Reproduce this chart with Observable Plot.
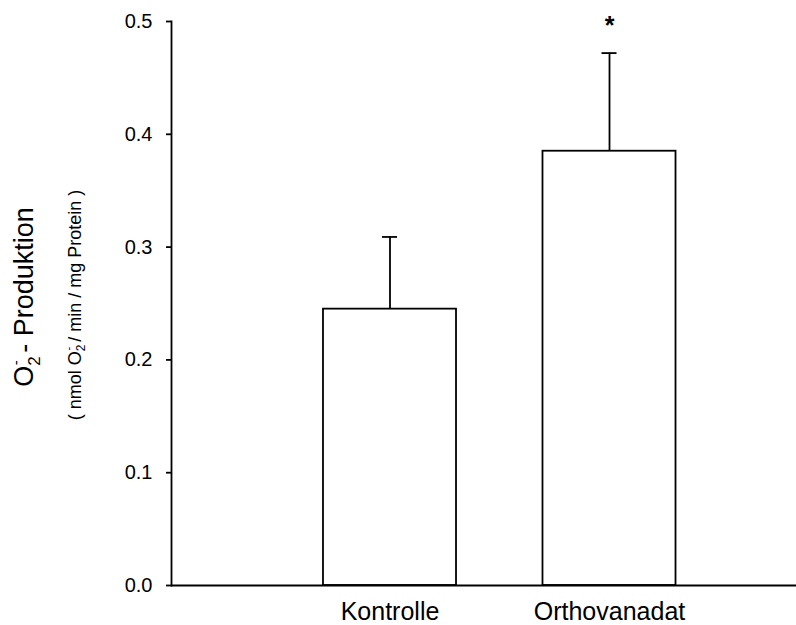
<!DOCTYPE html>
<html><head><meta charset="utf-8">
<script src="https://cdn.jsdelivr.net/npm/d3@7"></script>
<script src="https://cdn.jsdelivr.net/npm/@observablehq/plot@0.6"></script>
<style>body{margin:0;background:#fff}</style>
</head><body><div id="chart"></div>
<script>
const categories = ["Kontrolle", "Orthovanadat"];
const values = [0.245, 0.385];
const errors = [0.064, 0.087];
const significance = ["", "*"];
const yTicks = [0, 0.1, 0.2, 0.3, 0.4, 0.5];

const data = categories.map((c, i) => ({category: c, value: values[i], top: values[i] + errors[i], sig: significance[i]}));

const plot = Plot.plot({
  width: 796, height: 625,
  marginLeft: 171, marginRight: 0, marginTop: 21, marginBottom: 40,
  style: {fontFamily: "'Liberation Sans', Arial, sans-serif", background: "#fff", overflow: "visible", color: "black"},
  x: {type: "band", domain: categories, range: [236.5, 762], padding: 0.394, round: false, label: null},
  y: {domain: [0, 0.5], label: null},
  marks: [
    Plot.barY(data, {x: "category", y: "value", fill: "white", stroke: "black", strokeWidth: 1.8}),
    Plot.ruleX(data, {x: "category", y1: "value", y2: "top", stroke: "black", strokeWidth: 1.8}),
    Plot.tickY(data, {x: "category", y: "top", stroke: "black", strokeWidth: 1.8, insetLeft: 59, insetRight: 59}),
    Plot.text(data, {x: "category", y: "top", text: "sig", dy: -27, fontSize: 25, fontWeight: "bold", fill: "black"}),
    Plot.axisY({ticks: yTicks, tickFormat: d3.format(".1f"), tickSize: 5, tickPadding: 14, fontSize: 20, strokeWidth: 1.8, label: null}),
    Plot.axisX({tickSize: 0, tickPadding: 17, fontSize: 25, label: null}),
    Plot.ruleY([0], {strokeWidth: 1.8}),
    Plot.frame({anchor: "left", strokeWidth: 1.8})
  ]
});

const svg = d3.select(plot);
const main = svg.append("text")
  .attr("transform", "translate(33,297) rotate(-90)")
  .attr("text-anchor", "middle")
  .attr("font-size", 27)
  .attr("fill", "black");
main.append("tspan").text("O");
main.append("tspan").attr("font-size", 17).attr("dy", 7).text("2");
main.append("tspan").attr("font-size", 15).attr("dx", -9).attr("dy", -19).text("-");
main.append("tspan").attr("dy", 12).text(" - Produktion");

const sub = svg.append("text")
  .attr("transform", "translate(81,305) rotate(-90)")
  .attr("text-anchor", "middle")
  .attr("font-size", 18)
  .attr("fill", "black");
sub.append("tspan").text("( nmol O");
sub.append("tspan").attr("font-size", 12).attr("dy", 4).text("2");
sub.append("tspan").attr("font-size", 11).attr("dx", -6).attr("dy", -13).text("-");
sub.append("tspan").attr("dy", 9).text(" / min / mg Protein )");

document.getElementById("chart").appendChild(plot);
</script>
</body></html>
